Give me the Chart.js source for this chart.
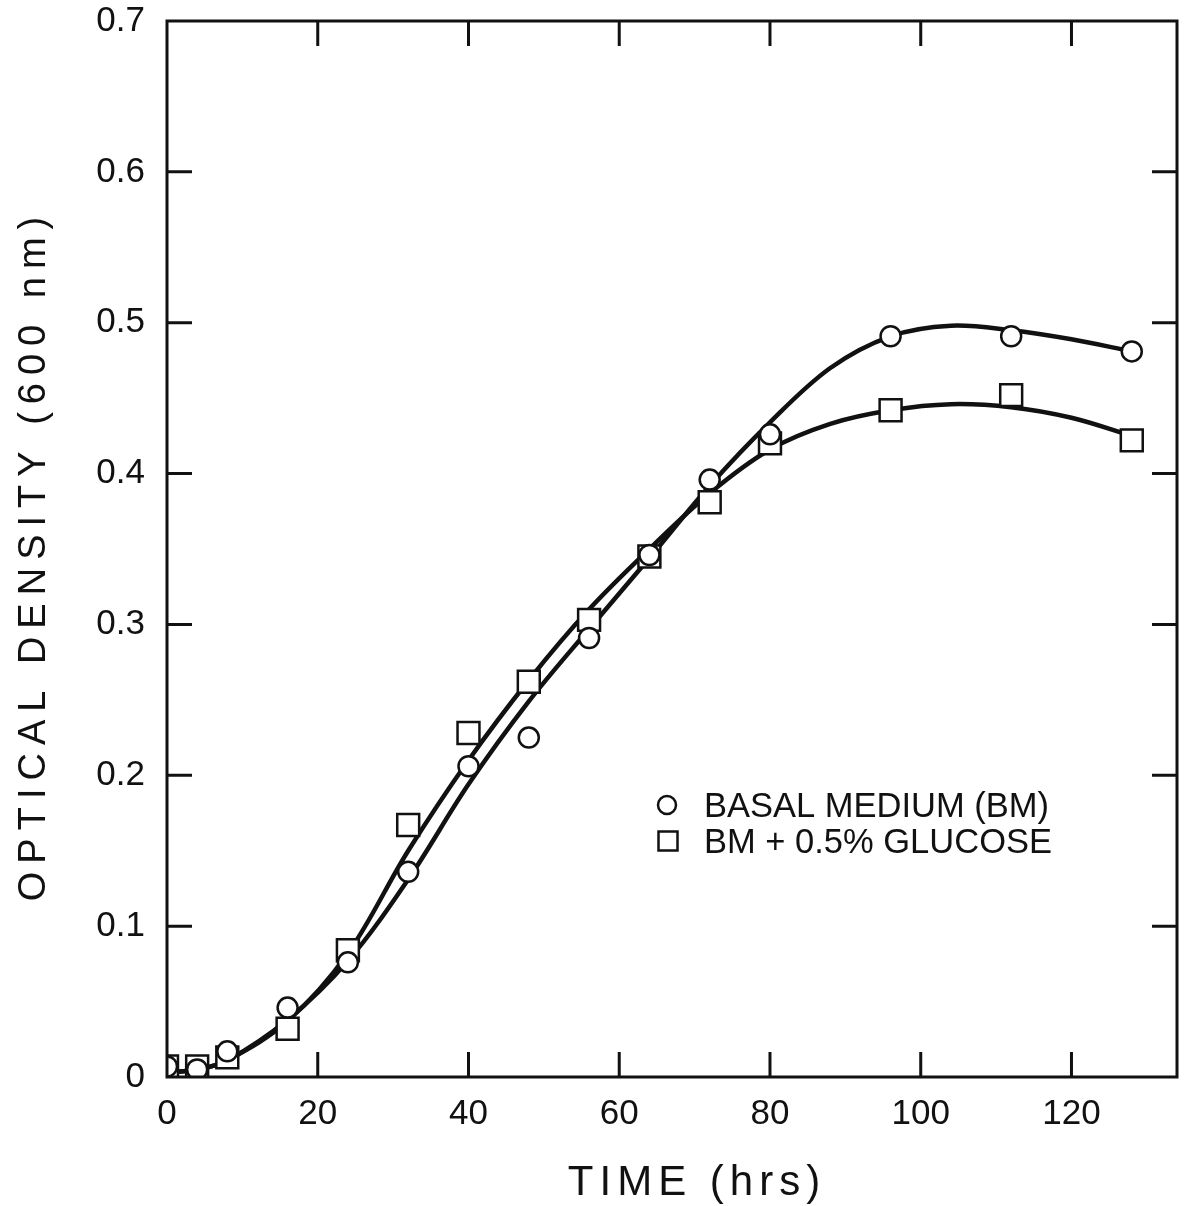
<!DOCTYPE html>
<html>
<head>
<meta charset="utf-8">
<script src="https://cdn.jsdelivr.net/npm/chart.js@4.4.1/dist/chart.umd.min.js"></script>
<style>
  html, body { margin: 0; padding: 0; background: #fff; }
  #wrap { width: 1195px; height: 1206px; }
</style>
</head>
<body>
<div id="wrap"><canvas id="c" width="1195" height="1206"></canvas></div>
<script>
// ---- data ----
const timeHrs = [0, 4, 8, 16, 24, 32, 40, 48, 56, 64, 72, 80, 96, 112, 128];
const basalMedium = [0.007, 0.005, 0.017, 0.046, 0.076, 0.136, 0.206, 0.225, 0.291, 0.346, 0.396, 0.426, 0.491, 0.491, 0.481];
const glucose = [0.007, 0.007, 0.013, 0.032, 0.084, 0.167, 0.228, 0.262, 0.303, 0.345, 0.381, 0.420, 0.442, 0.452, 0.422];

// fitted curves drawn in the figure
const curveHrs = [0, 4, 8, 16, 24, 32, 40, 48, 56, 64, 72, 80, 88, 96, 104, 112, 120, 128];
const basalCurve = [0.003, 0.005, 0.011, 0.038, 0.077, 0.131, 0.194, 0.249, 0.297, 0.344, 0.392, 0.434, 0.470, 0.491, 0.498, 0.495, 0.489, 0.481];
const glucoseCurve = [0.003, 0.005, 0.011, 0.037, 0.082, 0.150, 0.210, 0.263, 0.310, 0.350, 0.387, 0.416, 0.433, 0.442, 0.446, 0.444, 0.437, 0.425];

const xTicks = [0, 20, 40, 60, 80, 100, 120];
const yTicks = [0, 0.1, 0.2, 0.3, 0.4, 0.5, 0.6, 0.7];
const xTitle = 'TIME (hrs)';
const yTitle = 'OPTICAL DENSITY (600 nm)';
const legendLabels = ['BASAL MEDIUM (BM)', 'BM + 0.5% GLUCOSE'];

const FONT = '"Liberation Sans", Arial, sans-serif';
const INK = '#111';

const pts = (xs, ys) => xs.map((x, i) => ({ x: x, y: ys[i] }));

const framePlugin = {
  id: 'frame',
  afterDatasetsDraw(chart) {
    const ctx = chart.ctx;
    const a = chart.chartArea;
    const xs = chart.scales.x, ys = chart.scales.y;
    ctx.save();
    ctx.strokeStyle = INK;
    ctx.lineWidth = 3;
    ctx.lineCap = 'butt';
    ctx.strokeRect(a.left, a.top, a.right - a.left, a.bottom - a.top);
    const TL = 25;
    ctx.beginPath();
    xTicks.forEach(v => {
      if (v === xs.min) return;
      const px = xs.getPixelForValue(v);
      ctx.moveTo(px, a.bottom); ctx.lineTo(px, a.bottom - TL);
      ctx.moveTo(px, a.top); ctx.lineTo(px, a.top + TL);
    });
    yTicks.forEach(v => {
      if (v === ys.min || v === ys.max) return;
      const py = ys.getPixelForValue(v);
      ctx.moveTo(a.left, py); ctx.lineTo(a.left + TL, py);
      ctx.moveTo(a.right, py); ctx.lineTo(a.right - TL, py);
    });
    ctx.stroke();

    // axis titles
    ctx.fillStyle = INK;
    ctx.font = '42px ' + FONT;
    ctx.letterSpacing = '6px';
    ctx.textAlign = 'center';
    ctx.textBaseline = 'alphabetic';
    ctx.fillText(xTitle, (a.left + a.right) / 2 + 25, 1195);

    ctx.save();
    ctx.font = '38px ' + FONT;
    ctx.letterSpacing = '8px';
    ctx.translate(45, (a.top + a.bottom) / 2 + 6);
    ctx.rotate(-Math.PI / 2);
    ctx.fillText(yTitle, 0, 0);
    ctx.restore();

    // legend
    ctx.letterSpacing = '0px';
    ctx.font = '34.5px ' + FONT;
    ctx.textAlign = 'left';
    ctx.lineWidth = 2.5;
    ctx.fillStyle = '#fff';
    ctx.beginPath();
    ctx.arc(667, 805, 9, 0, Math.PI * 2);
    ctx.fill(); ctx.stroke();
    ctx.beginPath();
    ctx.rect(658.5, 831.5, 19, 19);
    ctx.fill(); ctx.stroke();
    ctx.fillStyle = INK;
    ctx.fillText(legendLabels[0], 704, 817);
    ctx.fillText(legendLabels[1], 704, 853);
    ctx.restore();
  }
};

new Chart(document.getElementById('c'), {
  type: 'line',
  data: {
    datasets: [
      {
        label: legendLabels[0],
        data: pts(timeHrs, basalMedium),
        showLine: false,
        pointStyle: 'circle',
        pointRadius: 10,
        pointBorderWidth: 2.5,
        pointBackgroundColor: '#fff',
        pointBorderColor: INK
      },
      {
        label: legendLabels[1],
        data: pts(timeHrs, glucose),
        showLine: false,
        pointStyle: 'rect',
        pointRadius: 15.5,
        pointBorderWidth: 2.5,
        pointBackgroundColor: '#fff',
        pointBorderColor: INK
      },
      {
        label: 'BM fit',
        data: pts(curveHrs, basalCurve),
        borderColor: INK,
        borderWidth: 4.5,
        pointRadius: 0,
        fill: false,
        tension: 0.35
      },
      {
        label: 'Glucose fit',
        data: pts(curveHrs, glucoseCurve),
        borderColor: INK,
        borderWidth: 4.5,
        pointRadius: 0,
        fill: false,
        tension: 0.35
      }
    ]
  },
  options: {
    responsive: false,
    animation: false,
    layout: { padding: { top: 21, right: 0, left: 0, bottom: 0 } },
    plugins: { legend: { display: false }, tooltip: { enabled: false } },
    scales: {
      x: {
        type: 'linear',
        min: 0,
        max: 134,
        afterFit: s => { s.height = 129; s.paddingLeft = 0; s.paddingRight = 0; },
        afterBuildTicks: s => { s.ticks = xTicks.map(v => ({ value: v })); },
        grid: { display: false, drawTicks: false },
        border: { display: false },
        ticks: {
          color: INK,
          font: { family: FONT, size: 35 },
          padding: 16,
          maxRotation: 0,
          autoSkip: false,
          callback: v => String(v)
        }
      },
      y: {
        type: 'linear',
        min: 0,
        max: 0.7,
        afterFit: s => { s.width = 167; s.paddingTop = 0; s.paddingBottom = 0; },
        afterBuildTicks: s => { s.ticks = yTicks.map(v => ({ value: v })); },
        grid: { display: false, drawTicks: false },
        border: { display: false },
        ticks: {
          color: INK,
          font: { family: FONT, size: 35 },
          padding: 22,
          autoSkip: false,
          callback: v => (v === 0 ? '0' : Number(v).toFixed(1))
        }
      }
    }
  },
  plugins: [framePlugin]
});
</script>
</body>
</html>
